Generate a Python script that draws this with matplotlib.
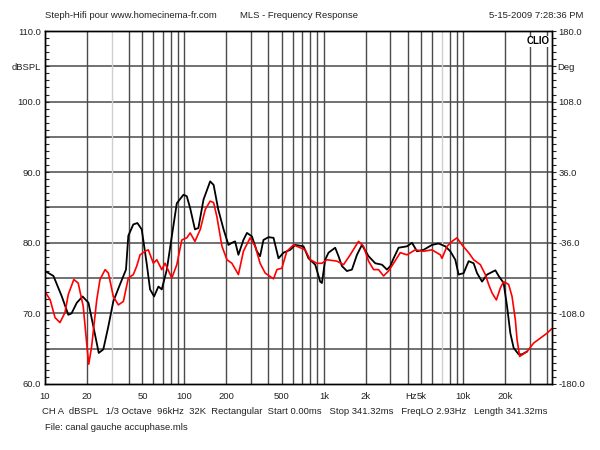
import matplotlib
matplotlib.use('Agg')
import matplotlib.pyplot as plt
from matplotlib.ticker import FixedLocator, MultipleLocator, FormatStrFormatter, NullFormatter

plt.rcParams['font.family'] = ['Liberation Sans', 'DejaVu Sans']
plt.rcParams['axes.unicode_minus'] = False

# Frequency response, left channel (black) and second measurement (red)
black_freq = [10, 11.5, 13.2, 14.7, 15.5, 16.9, 18.6, 20.5, 22.2, 24.3, 26.2, 28.5, 30.9, 34.5,
              38.1, 39.6, 43.0, 46.0, 49.4, 53.7, 56.7, 60.6, 65.1, 68.8, 74.8, 81.2, 88.2, 98.4,
              104, 110, 119, 126, 137, 153, 162, 175, 191, 207, 219, 231, 244, 265, 281, 305,
              331, 349, 369, 401, 436, 473, 514, 574, 623, 715, 777, 868, 942, 969, 1023, 1081,
              1207, 1275, 1349, 1465, 1591, 1729, 1877, 2094, 2339, 2613, 2838, 2998, 3166, 3439,
              3951, 4292, 4661, 5197, 5970, 6659, 7438, 8079, 8776, 9268, 10070, 10940, 11880,
              12570, 13650, 14830, 17010, 17960, 19500, 20630, 21780, 23010, 24990, 26430, 28710]
black_db = [76.0, 75.3, 72.4, 69.8, 70.0, 71.5, 72.4, 71.5, 68.2, 64.4, 64.9, 68.2, 71.7, 74.1,
            76.2, 81.0, 82.6, 82.8, 81.9, 77.0, 73.4, 72.4, 73.8, 73.4, 76.2, 80.9, 85.6, 86.8,
            86.6, 84.9, 81.9, 82.1, 86.1, 88.7, 88.2, 84.7, 81.9, 79.7, 80.0, 80.2, 78.3, 80.4,
            81.4, 80.9, 78.8, 78.1, 80.4, 80.8, 80.7, 77.8, 78.6, 79.0, 79.7, 79.5, 77.8, 76.9,
            74.5, 74.3, 77.6, 78.6, 79.3, 78.1, 76.7, 76.0, 76.2, 78.3, 79.7, 78.1, 77.1, 76.9,
            76.2, 76.7, 77.8, 79.3, 79.5, 80.0, 78.8, 79.0, 79.7, 79.9, 79.5, 78.8, 77.6, 75.5,
            75.7, 77.4, 77.1, 75.7, 74.5, 75.5, 76.1, 75.3, 74.3, 71.0, 67.2, 65.1, 64.2, 64.2,
            64.6]

red_freq = [10, 10.9, 11.8, 12.8, 13.9, 14.7, 16.1, 17.3, 18.8, 20.1, 20.6, 21.6, 23.5, 24.8,
            27.0, 28.5, 30.9, 33.6, 36.5, 39.6, 43.0, 45.5, 48.1, 52.2, 55.1, 59.9, 63.4, 68.8,
            72.7, 81.2, 88.2, 95.8, 104, 110, 119, 130, 141, 153, 162, 171, 186, 202, 219, 244,
            265, 296, 322, 349, 380, 436, 461, 500, 543, 606, 677, 735, 799, 892, 969, 1053,
            1242, 1385, 1547, 1774, 1928, 2094, 2275, 2470, 2683, 2913, 3166, 3536, 3951, 4531,
            5197, 5970, 6848, 7043, 7651, 8310, 9026, 9803, 10940, 11880, 13270, 14410, 15220,
            16100, 17290, 18470, 19500, 21180, 22400, 23660, 24330, 25410, 28710, 32020, 35770,
            39960, 43000]
red_db = [73.1, 71.9, 69.4, 68.7, 70.1, 72.7, 74.8, 74.3, 71.0, 64.9, 62.8, 65.3, 71.9, 74.8,
          76.2, 75.7, 72.4, 71.2, 71.7, 75.0, 75.5, 76.7, 78.3, 78.8, 79.0, 77.1, 77.6, 76.2,
          77.1, 75.0, 76.9, 80.4, 80.7, 81.4, 80.2, 81.9, 84.7, 85.9, 85.7, 83.7, 79.5, 77.6,
          77.1, 75.5, 78.8, 80.7, 79.5, 77.1, 75.7, 74.9, 76.2, 76.4, 78.8, 79.7, 79.3, 79.0,
          77.6, 77.1, 77.1, 77.6, 77.4, 76.9, 78.3, 80.2, 79.5, 77.4, 76.2, 76.2, 75.3, 76.0,
          77.1, 78.6, 78.3, 79.0, 78.8, 79.0, 78.3, 77.8, 79.5, 80.2, 80.7, 79.7, 78.6, 77.6,
          76.9, 75.5, 74.1, 72.9, 71.9, 73.6, 74.5, 74.1, 72.4, 69.1, 66.3, 63.9, 64.6, 65.8,
          66.5, 67.2, 67.8]

x_tick_freqs = [10, 20, 50, 100, 200, 500, 1000, 2000, 5000, 10000, 20000]
x_tick_labels = ['10', '20', '50', '100', '200', '500', '1k', '2k', '5k', '10k', '20k']
phase_ticks = [-180, -108, -36, 36, 108, 180]

fig = plt.figure(figsize=(6, 4.5), dpi=100)
ax = fig.add_axes([0.075, 0.1467, 0.8442, 0.7844])

ax.set_xscale('log')
ax.set_xlim(10, 43000)
ax.set_ylim(60, 110)

# grid: every 5 dB, and 1..9 per decade
for y in range(65, 110, 5):
    ax.axhline(y, color='#4a4a4a', lw=1.1, zorder=1)
for dec in [10, 100, 1000, 10000]:
    for m in range(1, 10):
        f = dec * m
        if 10 < f < 43000:
            c = '#cfcfcf' if f in (30, 7000) else '#4a4a4a'
            ax.axvline(f, color=c, lw=1.0, zorder=1)

ax.plot(black_freq, black_db, color='black', lw=1.3, zorder=3)
ax.plot(red_freq, red_db, color='#ff0000', lw=1.2, zorder=4)

ax.xaxis.set_major_locator(FixedLocator(x_tick_freqs))
ax.set_xticklabels(x_tick_labels)
ax.xaxis.set_minor_formatter(NullFormatter())
ax.tick_params(axis='x', which='both', length=0, pad=6, labelsize=6.8, colors='#222222')

ax.yaxis.set_major_locator(MultipleLocator(10))
ax.yaxis.set_minor_locator(MultipleLocator(1))
ax.yaxis.set_major_formatter(FormatStrFormatter('%.1f'))
ax.tick_params(axis='y', which='both', direction='in', length=3, width=0.8,
               labelsize=6.8, pad=3, colors='#222222')

ax2 = ax.twinx()
ax2.set_ylim(-180, 180)
ax2.yaxis.set_major_locator(FixedLocator(phase_ticks))
ax2.yaxis.set_minor_locator(MultipleLocator(7.2))
ax2.yaxis.set_major_formatter(FormatStrFormatter('%.1f'))
ax2.tick_params(axis='y', which='both', direction='out', length=3, width=0.8,
                labelsize=6.8, pad=2, colors='#222222')

for a in (ax, ax2):
    for s in a.spines.values():
        s.set_color('black')
        s.set_linewidth(1.0)

ax.text(4650, -0.0236, 'Hz', transform=ax.get_xaxis_transform(), ha='right', va='top',
        fontsize=6.8, color='#222222')
ax.text(0.996, 0.985, 'CLIO', transform=ax.transAxes, ha='right', va='top',
        fontsize=7, fontweight='bold', color='black', zorder=5,
        bbox=dict(facecolor='white', edgecolor='none', pad=0.5))

fs = 6.8
tc = '#222222'
fig.text(45 / 600, 1 - 15 / 450, 'Steph-Hifi pour www.homecinema-fr.com', fontsize=fs, color=tc, va='center')
fig.text(240 / 600, 1 - 15 / 450, 'MLS - Frequency Response', fontsize=fs, color=tc, va='center')
fig.text(583 / 600, 1 - 15 / 450, '5-15-2009 7:28:36 PM', fontsize=fs, color=tc, va='center', ha='right')
fig.text(41 / 600, 1 - 67 / 450, 'dBSPL', fontsize=fs, color=tc, va='center', ha='right')
fig.text(557 / 600, 1 - 67 / 450, 'Deg', fontsize=fs, color=tc, va='center', ha='left')
fig.text(42 / 600, 1 - 411 / 450,
         'CH A  dBSPL   1/3 Octave  96kHz  32K  Rectangular  Start 0.00ms   Stop 341.32ms   FreqLO 2.93Hz   Length 341.32ms',
         fontsize=fs, color=tc, va='center')
fig.text(45 / 600, 1 - 428 / 450, 'File: canal gauche accuphase.mls', fontsize=fs, color=tc, va='center')

fig.savefig('out.png', dpi=100)
